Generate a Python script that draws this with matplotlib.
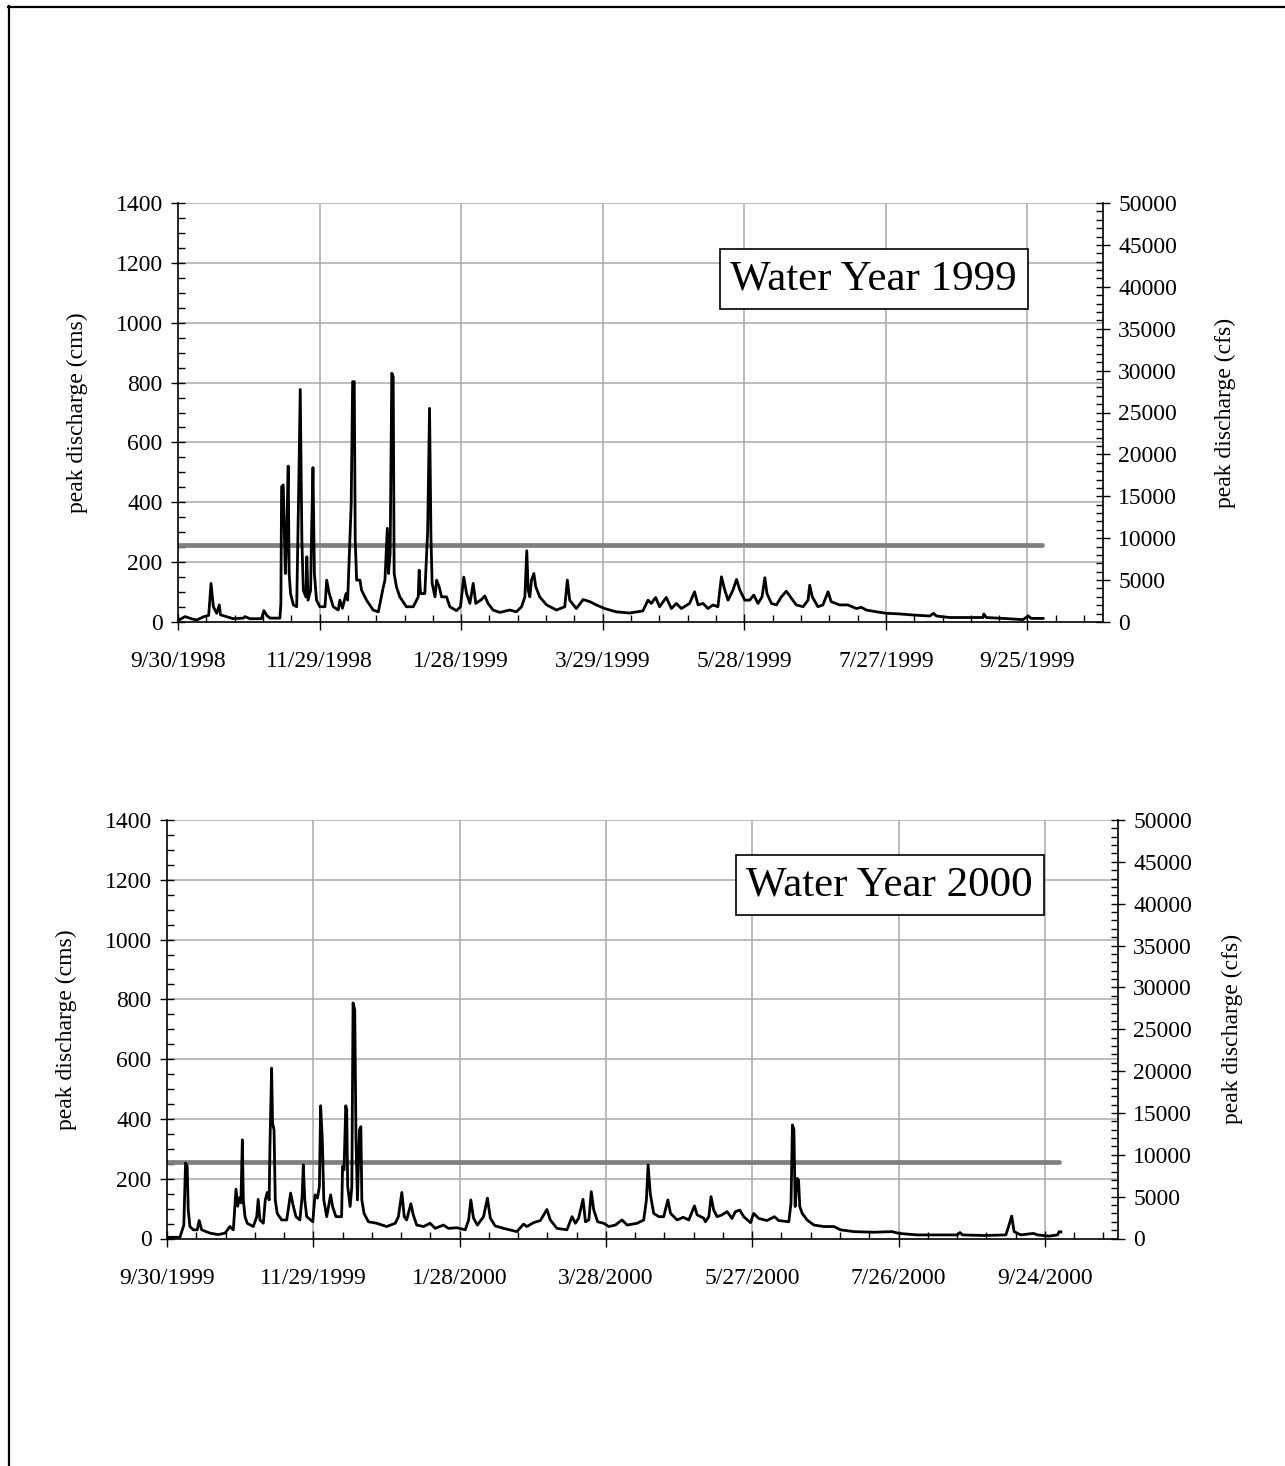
import datetime as dt
import matplotlib
matplotlib.use("Agg")
import matplotlib.pyplot as plt
from matplotlib.ticker import MultipleLocator, FuncFormatter
from matplotlib.lines import Line2D

plt.rcParams['font.family'] = ['Liberation Serif', 'DejaVu Serif']

# ---------------- data ----------------
start_1999 = dt.date(1998, 9, 30)
start_2000 = dt.date(1999, 9, 30)

days_1999 = [0, 3, 6, 8, 11, 13, 14, 15, 16.4, 17.5, 18, 23.4, 27.7, 28.4, 30.5, 35.4, 36.4, 37.6, 39,
             43.2, 43.6, 43.9, 44.6, 45, 45.5, 46, 46.7, 47.1, 47.7, 48.9, 50.3, 51.1, 51.8, 52.5, 53.1,
             54.2, 54.6, 55.1, 56.2, 56.6, 57.2, 57.8, 58.7, 60.1, 62.3, 63, 64.1, 65.8, 67.9, 68.6,
             69.7, 71.2, 71.9, 72.6, 73.4, 74, 74.7, 75.1, 75.7, 77.1, 77.8, 79.9, 82.7, 84.9, 87, 87.7,
             88.7, 89.2, 89.9, 90.6, 91.2, 91.6, 92.6, 94, 96.8, 99.7, 101.8, 102.2, 102.8, 104.6, 105.8,
             106.6, 107.2, 107.7, 108.9, 109.6, 110.7, 111.7, 113.8, 115.2, 118, 119.7, 121.1, 122.3,
             123.7, 125.1, 126.2, 128.6, 130, 131.4, 133.5, 136.4, 140.6, 143.4, 145.6, 147, 147.8,
             148.4, 149.1, 149.8, 150.8, 151.6, 153.3, 156.2, 160.4, 163.9, 165, 166, 168.8, 171.7,
             174.5, 177.3, 180.8, 185.7, 191.4, 197, 199.2, 200.6, 202.4, 204.1, 206.9, 209.1, 211.2,
             213.3, 216.8, 218.9, 220.4, 222.5, 224.6, 226.7, 228.8, 230.3, 231.7, 233.1, 235.2, 236.7,
             238.1, 240.2, 242.3, 244, 245.8, 247.5, 248.7, 249.6, 251.5, 253.6, 255.7, 257.8, 260, 262,
             264.9, 267, 267.7, 268.8, 271.2, 273.3, 275.5, 276.8, 280.4, 283.9, 287.5, 289.6, 291.7,
             296, 300.2, 305.8, 312.2, 318.6, 320.2, 321.4, 327, 335.5, 341.1, 341.5, 342.5, 349.7,
             358.1, 360.3, 361.6, 366.6]
q_1999 = [5, 18, 10, 7, 18, 22, 129, 51, 29, 57, 24, 11, 13, 18, 11, 11, 38, 22, 13,
          13, 61, 452, 458, 318, 162, 273, 521, 162, 95, 57, 51, 419, 777, 273, 106,
          84, 218, 73, 106, 295, 516, 162, 73, 51, 51, 140, 95, 51, 40, 73,
          46, 95, 73, 222, 395, 803, 803, 273, 140, 140, 106, 73, 40, 34, 117, 140,
          313, 162, 229, 831, 820, 162, 117, 84, 51, 51, 84, 173, 95, 95, 304,
          714, 283, 129, 84, 140, 117, 84, 84, 51, 38, 51, 150, 95,
          62, 129, 62, 75, 87, 62, 40, 32, 40, 34, 51, 84, 238,
          107, 84, 140, 162, 118, 84, 57, 40, 51, 140, 73, 45, 75,
          68, 57, 45, 34, 30, 37, 73, 62, 82, 51, 82, 45, 62,
          45, 62, 101, 57, 62, 45, 57, 51, 151, 107, 73, 107, 142,
          107, 73, 73, 90, 62, 84, 148, 95, 62, 57, 84, 103, 79, 57,
          51, 73, 123, 84, 51, 57, 101, 68, 57, 57, 45, 49, 40,
          34, 29, 27, 23, 20, 29, 20, 15, 15, 15, 27, 15, 12,
          8, 20, 12, 12]

days_2000 = [0, 5.3, 6.9, 7.6, 8.3, 8.7, 9.4, 10.8, 12.4, 13.2, 14.2, 17.6, 21, 23.8, 25.8, 27.2, 28.3,
             29, 29.6, 30.3, 30.9, 31.3, 32, 32.9, 35.4, 36.8, 37.4, 38.1, 39.5, 40.3, 41.1, 41.9, 42.2,
             42.9, 43.3, 43.9, 44.4, 45.2, 47, 49.1, 50.7, 51.8, 52.9, 54.5, 55.4, 55.9, 56.5, 57.3,
             59.8, 60.7, 61.7, 62.5, 63, 63.7, 64.3, 65.5, 67.1, 67.9, 69.3, 71.6, 72, 72.6, 73.3, 73.7,
             74.1, 75.1, 75.8, 76.3, 77, 77.5, 78.1, 78.9, 79.5, 79.9, 80.8, 82.6, 86, 90.1, 93.6, 94.9,
             96.3, 97.3, 98.3, 100, 101, 102.4, 105.2, 107.9, 110, 113.4, 115.4, 118.9, 122.3, 123.7,
             124.6, 125.7, 127.3, 129.8, 131.4, 132.6, 134.6, 138, 143.5, 146.2, 147.6, 150.3, 153.1,
             155.8, 157.2, 159.9, 164, 166.1, 167.5, 168.8, 170.6, 171.6, 173, 174, 175, 176.6, 179.1,
             181.2, 183.9, 186.6, 188.7, 192.8, 195.5, 196.6, 197.3, 198.2, 199.6, 201.7, 203.7, 205.4,
             206.5, 209.2, 211.7, 214, 216.3, 217.4, 220.1, 220.8, 222.2, 223.1, 224.2, 225.6, 227.6,
             229.7, 231.7, 233.1, 234.9, 236.5, 239.3, 240.6, 242.7, 246.1, 249.1, 250.9, 255, 255.9,
             256.5, 257.1, 257.6, 258.4, 259, 259.5, 260.5, 262.5, 265.3, 269.4, 273.5, 276.2, 281.7,
             289.9, 297.4, 300.2, 307.7, 324.1, 325.2, 326.2, 335.1, 344, 344.9, 346.4, 347.4, 350.1,
             355.3, 357, 361.8, 365.2, 365.9, 366.6]
q_2000 = [4, 4, 45, 252, 241, 96, 40, 29, 29, 60, 29, 18, 13, 18, 40, 29, 165,
          108, 136, 119, 330, 129, 73, 51, 40, 73, 131, 62, 51, 129, 154, 129, 302,
          570, 386, 363, 129, 84, 62, 62, 152, 108, 73, 62, 140, 246, 129, 73,
          56, 146, 135, 174, 444, 330, 129, 73, 146, 107, 73, 73, 241, 230, 444, 430,
          174, 107, 174, 788, 765, 330, 129, 363, 374, 129, 84, 56, 51, 40, 51, 73,
          154, 73, 62, 116, 79, 45, 40, 51, 34, 45, 34, 36, 29, 62,
          129, 68, 45, 73, 135, 68, 42, 34, 23, 48, 40, 53, 60,
          97, 62, 34, 29, 73, 51, 68, 131, 56, 62, 157, 96, 56, 51,
          40, 45, 62, 45, 51, 62, 129, 246, 149, 84, 73, 73, 129,
          84, 62, 71, 62, 109, 79, 68, 56, 73, 140, 95, 73, 79,
          90, 67, 90, 95, 73, 53, 84, 67, 60, 73, 60, 56, 118,
          380, 364, 107, 201, 196, 107, 84, 62, 45, 40, 40, 29, 23,
          21, 23, 17, 12, 12, 20, 12, 10, 12, 34, 75, 23, 12,
          17, 12, 8, 12, 23, 22]

threshold_cms = [257, 257]
threshold_days = [0, 366]

titles = ["Water Year 1999", "Water Year 2000"]

# ---------------- figure ----------------
W, H = 1285, 1466
fig = plt.figure(figsize=(W / 100, H / 100), dpi=100)

# outer frame
fig.add_artist(Line2D([9 / W, 9 / W], [0, 1 - 6 / H], color='black', lw=1.6,
                      transform=fig.transFigure))
fig.add_artist(Line2D([8 / W, 1], [1 - 7 / H, 1 - 7 / H], color='black', lw=1.6,
                      transform=fig.transFigure))


def px_axes(l, r, t, b):
    return [l / W, 1 - b / H, (r - l) / W, (b - t) / H]


panels = [
    dict(rect=px_axes(178, 1103, 203, 622), start=start_1999, days=days_1999, q=q_1999,
         xmax=392, title=titles[0], tx=0.752, ty=0.819, lpad=20, rpad=27),
    dict(rect=px_axes(167, 1118, 820, 1238.5), start=start_2000, days=days_2000, q=q_2000,
         xmax=390, title=titles[1], tx=0.760, ty=0.845, lpad=20, rpad=21),
]

FS = 17
grid_col = '#aaaaaa'

for p in panels:
    ax = fig.add_axes(p['rect'])
    ax.set_xlim(0, p['xmax'])
    ax.set_ylim(0, 1400)

    # grid
    for yv in range(200, 1401, 200):
        ax.axhline(yv, color=grid_col, lw=1.1, zorder=0)
    for xv in range(60, 361, 60):
        ax.axvline(xv, color=grid_col, lw=1.1, zorder=0)

    ax.plot(threshold_days, threshold_cms, color='#7f7f7f', lw=3.4,
            solid_capstyle='round', zorder=2)
    ax.plot(p['days'], p['q'], color='black', lw=2.0, zorder=3)

    st = p['start']
    ax.xaxis.set_major_locator(MultipleLocator(60))
    ax.xaxis.set_minor_locator(MultipleLocator(12))
    ax.xaxis.set_major_formatter(FuncFormatter(
        lambda x, pos, st=st: (lambda d: f"{d.month}/{d.day}/{d.year}")(st + dt.timedelta(days=round(x)))))
    ax.yaxis.set_major_locator(MultipleLocator(200))
    ax.yaxis.set_minor_locator(MultipleLocator(50))

    ax.tick_params(axis='x', which='major', direction='inout', length=12, width=1,
                   labelsize=FS, pad=15)
    ax.tick_params(axis='x', which='minor', direction='in', length=5, width=1)
    ax.tick_params(axis='y', which='major', direction='inout', length=10, width=1,
                   labelsize=FS, pad=6)
    ax.tick_params(axis='y', which='minor', direction='in', length=5, width=1)

    ax.spines['top'].set_visible(False)
    ax.spines['right'].set_visible(False)
    for side in ['left', 'bottom']:
        ax.spines[side].set_linewidth(1.2)

    ax.set_ylabel('peak discharge (cms)', fontsize=FS, labelpad=p['lpad'])

    ax2 = ax.twinx()
    ax2.set_ylim(0, 50000)
    ax2.yaxis.set_major_locator(MultipleLocator(5000))
    ax2.yaxis.set_minor_locator(MultipleLocator(1000))
    ax2.tick_params(axis='y', which='major', direction='inout', length=10, width=1,
                    labelsize=FS, pad=6)
    ax2.tick_params(axis='y', which='minor', direction='in', length=5, width=1)
    for side in ['top', 'left', 'bottom']:
        ax2.spines[side].set_visible(False)
    ax2.spines['right'].set_linewidth(1.2)
    ax2.set_ylabel('peak discharge (cfs)', fontsize=FS, labelpad=p['rpad'])

    ax.text(p['tx'], p['ty'], p['title'], transform=ax.transAxes, fontsize=31,
            ha='center', va='center', zorder=5,
            bbox=dict(boxstyle='square,pad=0.25', fc='white', ec='black', lw=1.2))

fig.savefig('out.png', dpi=100)
